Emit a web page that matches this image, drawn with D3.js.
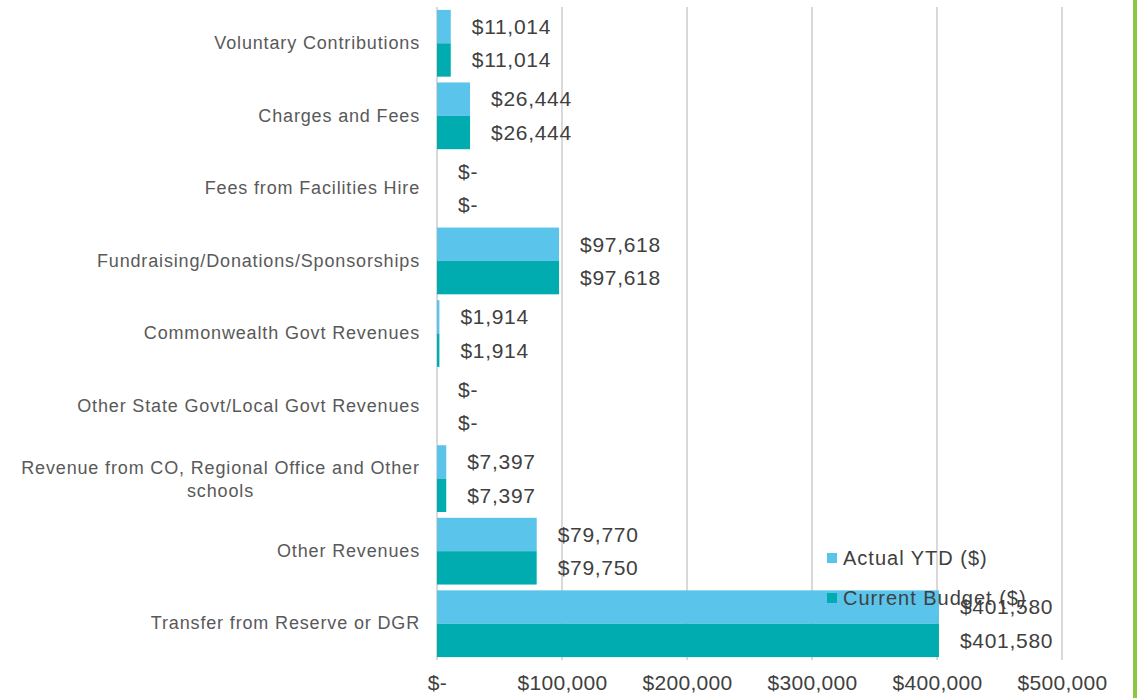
<!DOCTYPE html>
<html>
<head>
<meta charset="utf-8">
<script src="https://cdn.jsdelivr.net/npm/d3@7"></script>
<style>
  html, body { margin: 0; padding: 0; background: #fff; }
  svg { display: block; }
  text { font-family: "Liberation Sans", Arial, sans-serif; }
</style>
</head>
<body>
<svg id="chart" width="1137" height="698"></svg>
<script>
const categories = [
  "Voluntary Contributions",
  "Charges and Fees",
  "Fees from Facilities Hire",
  "Fundraising/Donations/Sponsorships",
  "Commonwealth Govt Revenues",
  "Other State Govt/Local Govt Revenues",
  "Revenue from CO, Regional Office and Other schools",
  "Other Revenues",
  "Transfer from Reserve or DGR"
];
const actualYTD = [11014, 26444, 0, 97618, 1914, 0, 7397, 79770, 401580];
const currentBudget = [11014, 26444, 0, 97618, 1914, 0, 7397, 79750, 401580];
const seriesNames = ["Actual YTD ($)", "Current Budget ($)"];
const tickValues = [0, 100000, 200000, 300000, 400000, 500000];

const colors = ["#5bc4eb", "#00acb0"];
const svg = d3.select("#chart");

const x = d3.scaleLinear().domain([0, 500000]).range([437, 1062]);
const y = d3.scaleBand().domain(categories).range([7, 660]).paddingInner(0.08).paddingOuter(0.04);
const ySub = d3.scaleBand().domain([0, 1]).range([0, y.bandwidth()]);

const fmt = v => v === 0 ? "$-" : "$" + d3.format(",")(v);

// gridlines
svg.append("g").selectAll("line").data(tickValues).join("line")
  .attr("x1", d => x(d)).attr("x2", d => x(d))
  .attr("y1", 7).attr("y2", 660)
  .attr("stroke", "#d9d9d9").attr("stroke-width", 2);

// x axis labels
const xAxis = d3.axisBottom(x).tickValues(tickValues).tickFormat(fmt).tickSize(0).tickPadding(0);
const gx = svg.append("g").attr("transform", "translate(0,675)").call(xAxis);
gx.select(".domain").remove();
gx.selectAll("text").attr("font-size", 21).attr("fill", "#404040")
  .attr("letter-spacing", "0.3px")
  .attr("font-family", "'Liberation Sans', Arial, sans-serif").attr("dy", "0.71em");

// bars
const series = [actualYTD, currentBudget];
series.forEach((vals, si) => {
  const g = svg.append("g");
  g.selectAll("rect").data(vals).join("rect")
    .attr("x", x(0))
    .attr("y", (d, i) => y(categories[i]) + ySub(si))
    .attr("width", d => x(d) - x(0))
    .attr("height", ySub.bandwidth())
    .attr("fill", colors[si]);
  g.selectAll("text").data(vals).join("text")
    .attr("x", d => x(d) + 21)
    .attr("y", (d, i) => y(categories[i]) + ySub(si) + ySub.bandwidth() / 2)
    .attr("dy", "0.35em")
    .attr("font-size", 21)
    .attr("letter-spacing", "0.7px")
    .attr("fill", "#404040")
    .text(fmt);
});

// y axis labels
const yAxis = d3.axisLeft(y).tickSize(0).tickPadding(0);
const gy = svg.append("g").attr("transform", "translate(420,0)").call(yAxis);
gy.select(".domain").remove();
gy.selectAll("text").attr("font-size", 18).attr("fill", "#595959")
  .attr("letter-spacing", "0.85px")
  .attr("font-family", "'Liberation Sans', Arial, sans-serif")
  .each(function(d) {
    const t = d3.select(this);
    if (d.length > 40) {
      t.text(null).attr("text-anchor", "middle").attr("x", -199.5).attr("dy", null);
      const lines = ["Revenue from CO, Regional Office and Other", "schools"];
      lines.forEach((ln, k) => {
        t.append("tspan").attr("x", -199.5).attr("y", -11 + k * 23).attr("dy", "0.35em").text(ln);
      });
    }
  });

// legend
const legend = svg.append("g");
seriesNames.forEach((name, i) => {
  const ly = 558 + i * 40;
  legend.append("rect").attr("x", 827).attr("y", ly - 5).attr("width", 10).attr("height", 10).attr("fill", colors[i]);
  legend.append("text").attr("x", 843).attr("y", ly).attr("dy", "0.35em")
    .attr("font-size", 20).attr("letter-spacing", "1px").attr("fill", "#404040").text(name);
});

// right green border
svg.append("rect").attr("x", 1133).attr("y", 0).attr("width", 4).attr("height", 698).attr("fill", "#8dc63f");
</script>
</body>
</html>
